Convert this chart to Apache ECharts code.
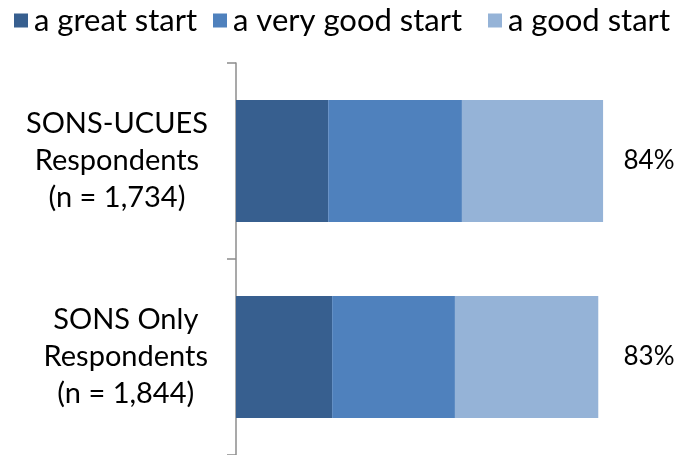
<!DOCTYPE html>
<html>
<head>
<meta charset="utf-8">
<script src="https://cdn.jsdelivr.net/npm/echarts@6/dist/echarts.min.js"></script>
<style>
  html, body { margin: 0; padding: 0; background: #fff; }
  #chart { width: 693px; height: 455px; }
</style>
</head>
<body>
<div id="chart"></div>
<script>
// 类别与数据
const categories = ['SONS-UCUES\nRespondents\n(n = 1,734)', 'SONS Only\nRespondents\n(n = 1,844)']
const seriesNames = ['a great start', 'a very good start', 'a good start']
const greatStart = [21.1, 22.0]
const veryGoodStart = [30.6, 28.1]
const goodStart = [32.3, 32.8]
const totals = ['84%', '83%']

const colors = ['#375F8F', '#4F81BD', '#95B3D7']
const fontFamily = 'Lato, "DejaVu Sans", sans-serif'
// 图例位置
const legendLefts = [14, 213, 488]

const chart = echarts.init(document.getElementById('chart'))

const makeBar = (name, data, color) => ({
  name,
  type: 'bar',
  stack: 'total',
  data,
  barWidth: 122,
  itemStyle: { color },
  emphasis: { disabled: true }
})

const makeLegend = (name, left) => ({
  data: [name],
  left,
  top: 5,
  padding: 0,
  icon: 'rect',
  itemWidth: 14,
  itemHeight: 14,
  selectedMode: false,
  textStyle: { fontSize: 31, color: '#000', fontFamily, padding: [0, 0, 0, 1] }
})

const option = {
  animation: false,
  textStyle: { fontFamily },
  legend: seriesNames.map((name, i) => makeLegend(name, legendLefts[i])),
  grid: {
    left: 236,
    width: 437,
    top: 63,
    bottom: 0
  },
  xAxis: {
    type: 'value',
    min: 0,
    max: 100,
    show: false
  },
  yAxis: [
    {
      type: 'category',
      data: categories,
      inverse: true,
      axisLine: { show: true, lineStyle: { color: '#8c8c8c', width: 1.5 } },
      axisTick: { show: true, length: 9, lineStyle: { color: '#8c8c8c', width: 1.5 } },
      axisLabel: {
        align: 'right',
        margin: 28,
        formatter: (v) => v.split('\n').map(s => '{c|' + s + '}').join('\n'),
        rich: {
          c: { align: 'center', fontSize: 29, lineHeight: 37, color: '#000', fontFamily }
        }
      }
    },
    {
      type: 'category',
      data: totals,
      inverse: true,
      position: 'right',
      axisLine: { show: false },
      axisTick: { show: false },
      axisLabel: {
        align: 'center',
        margin: -24,
        fontSize: 26,
        color: '#000',
        fontFamily
      }
    }
  ],
  series: [
    makeBar(seriesNames[0], greatStart, colors[0]),
    makeBar(seriesNames[1], veryGoodStart, colors[1]),
    makeBar(seriesNames[2], goodStart, colors[2])
  ]
}

chart.setOption(option)
</script>
</body>
</html>
